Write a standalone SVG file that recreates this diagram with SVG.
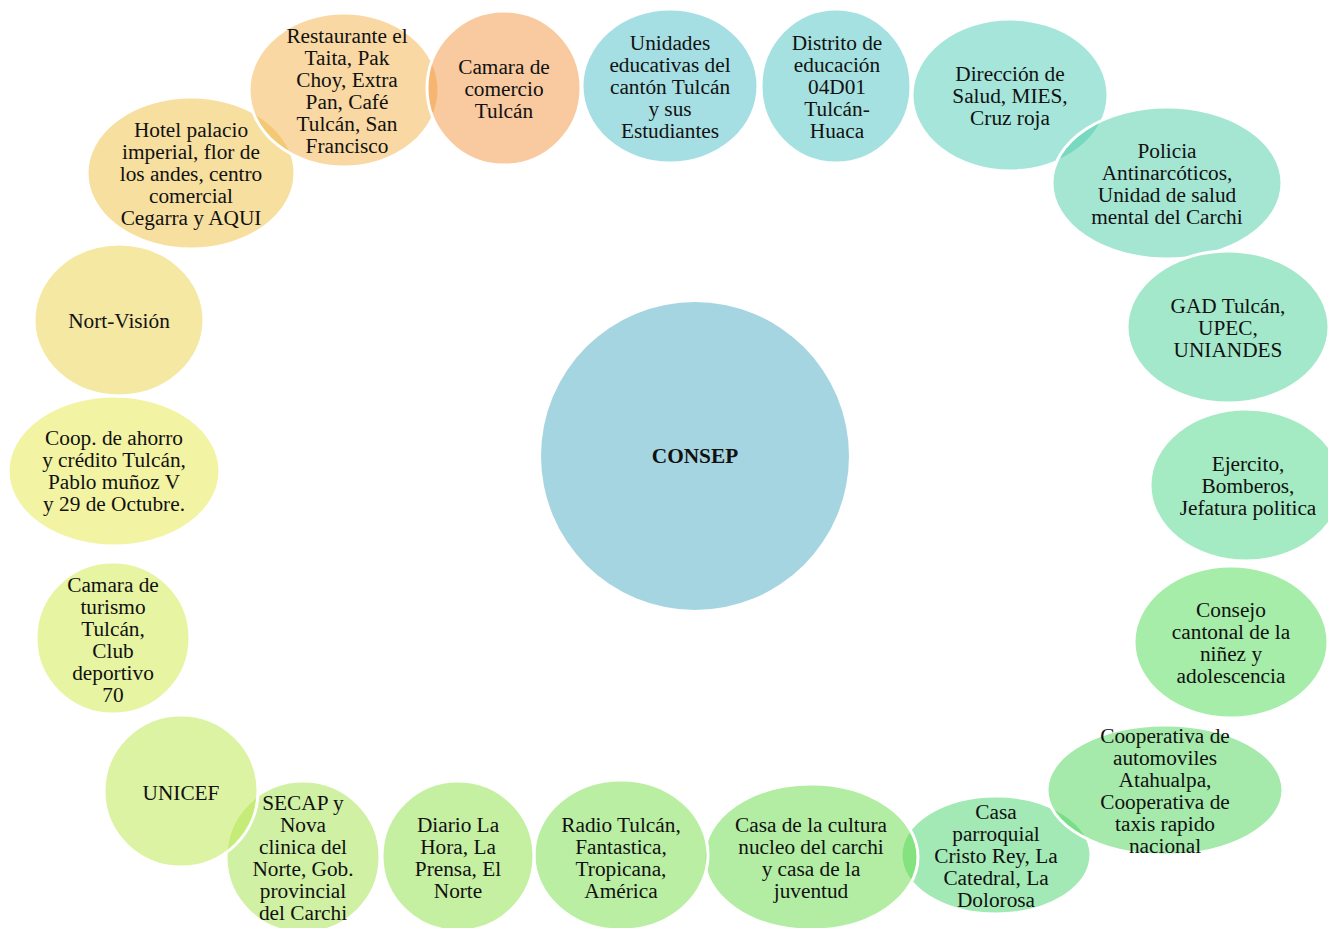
<svg xmlns="http://www.w3.org/2000/svg" width="1328" height="928" viewBox="0 0 1328 928">
<style>
.n{stroke:#fff;stroke-width:3;fill-opacity:0.5}
text{font-family:"Liberation Serif","Times New Roman",serif;font-size:21.3px;fill:#111;text-anchor:middle}
.b{font-weight:bold}
</style>
<rect width="1328" height="928" fill="#fff"/>
<g id="connectors"></g>
<g id="n-consep"><circle cx="695" cy="456" r="154" fill="#A6D5E2"/><text class="b" x="695" y="463">CONSEP</text></g>
<g id="n-hotel"><ellipse class="n" cx="191" cy="173" rx="104" ry="76" fill="#EFBF41"/><text x="191" y="137">Hotel palacio</text><text x="191" y="159">imperial, flor de</text><text x="191" y="181">los andes, centro</text><text x="191" y="203">comercial</text><text x="191" y="225">Cegarra y AQUI</text></g>
<g id="n-restaurante"><ellipse class="n" cx="344" cy="90" rx="95" ry="77" fill="#F3B147"/><text x="347" y="43">Restaurante el</text><text x="347" y="65">Taita, Pak</text><text x="347" y="87">Choy, Extra</text><text x="347" y="109">Pan, Café</text><text x="347" y="131">Tulcán, San</text><text x="347" y="153">Francisco</text></g>
<g id="n-camara-comercio"><ellipse class="n" cx="504" cy="88" rx="77" ry="77" fill="#F39341"/><text x="504" y="74">Camara de</text><text x="504" y="96">comercio</text><text x="504" y="118">Tulcán</text></g>
<g id="n-unidades"><ellipse class="n" cx="670" cy="86" rx="88" ry="77" fill="#4BBFC7"/><text x="670" y="50">Unidades</text><text x="670" y="72">educativas del</text><text x="670" y="94">cantón Tulcán</text><text x="670" y="116">y sus</text><text x="670" y="138">Estudiantes</text></g>
<g id="n-distrito"><ellipse class="n" cx="836" cy="86" rx="75" ry="77" fill="#4BC3C1"/><text x="837" y="50">Distrito de</text><text x="837" y="72">educación</text><text x="837" y="94">04D01</text><text x="837" y="116">Tulcán-</text><text x="837" y="138">Huaca</text></g>
<g id="n-direccion"><ellipse class="n" cx="1010" cy="95" rx="98" ry="76" fill="#4BCBB5"/><text x="1010" y="81">Dirección de</text><text x="1010" y="103">Salud, MIES,</text><text x="1010" y="125">Cruz roja</text></g>
<g id="n-policia"><ellipse class="n" cx="1167" cy="183" rx="115" ry="76" fill="#4BCDA7"/><text x="1167" y="158">Policia</text><text x="1167" y="180">Antinarcóticos,</text><text x="1167" y="202">Unidad de salud</text><text x="1167" y="224">mental del Carchi</text></g>
<g id="n-gad"><ellipse class="n" cx="1228" cy="327" rx="101" ry="76" fill="#49D197"/><text x="1228" y="313">GAD Tulcán,</text><text x="1228" y="335">UPEC,</text><text x="1228" y="357">UNIANDES</text></g>
<g id="n-ejercito"><ellipse class="n" cx="1246" cy="485" rx="96" ry="76" fill="#49D585"/><text x="1248" y="471">Ejercito,</text><text x="1248" y="493">Bomberos,</text><text x="1248" y="515">Jefatura politica</text></g>
<g id="n-consejo"><ellipse class="n" cx="1231" cy="642" rx="97" ry="76" fill="#4BDB51"/><text x="1231" y="617">Consejo</text><text x="1231" y="639">cantonal de la</text><text x="1231" y="661">niñez y</text><text x="1231" y="683">adolescencia</text></g>
<g id="n-parroquial"><ellipse class="n" cx="996" cy="855" rx="95" ry="59" fill="#47D36D"/><text x="996" y="819">Casa</text><text x="996" y="841">parroquial</text><text x="996" y="863">Cristo Rey, La</text><text x="996" y="885">Catedral, La</text><text x="996" y="907">Dolorosa</text></g>
<g id="n-cooperativa"><ellipse class="n" cx="1165" cy="790" rx="118" ry="65" fill="#4BD557"/><text x="1165" y="743">Cooperativa de</text><text x="1165" y="765">automoviles</text><text x="1165" y="787">Atahualpa,</text><text x="1165" y="809">Cooperativa de</text><text x="1165" y="831">taxis rapido</text><text x="1165" y="853">nacional</text></g>
<g id="n-cultura"><ellipse class="n" cx="811" cy="857" rx="107" ry="73" fill="#65DB47"/><text x="811" y="832">Casa de la cultura</text><text x="811" y="854">nucleo del carchi</text><text x="811" y="876">y casa de la</text><text x="811" y="898">juventud</text></g>
<g id="n-radio"><ellipse class="n" cx="621" cy="855" rx="87" ry="75" fill="#75DF47"/><text x="621" y="832">Radio Tulcán,</text><text x="621" y="854">Fantastica,</text><text x="621" y="876">Tropicana,</text><text x="621" y="898">América</text></g>
<g id="n-diario"><ellipse class="n" cx="458" cy="856" rx="76" ry="75" fill="#8BE145"/><text x="458" y="832">Diario La</text><text x="458" y="854">Hora, La</text><text x="458" y="876">Prensa, El</text><text x="458" y="898">Norte</text></g>
<g id="n-secap"><ellipse class="n" cx="303" cy="857" rx="77" ry="76" fill="#A1E349"/><text x="303" y="810">SECAP y</text><text x="303" y="832">Nova</text><text x="303" y="854">clinica del</text><text x="303" y="876">Norte, Gob.</text><text x="303" y="898">provincial</text><text x="303" y="920">del Carchi</text></g>
<g id="n-unicef"><ellipse class="n" cx="181" cy="791" rx="77" ry="76" fill="#B9E747"/><text x="181" y="800">UNICEF</text></g>
<g id="n-turismo"><ellipse class="n" cx="113" cy="638" rx="77" ry="76" fill="#CFE945"/><text x="113" y="592">Camara de</text><text x="113" y="614">turismo</text><text x="113" y="636">Tulcán,</text><text x="113" y="658">Club</text><text x="113" y="680">deportivo</text><text x="113" y="702">70</text></g>
<g id="n-coop"><ellipse class="n" cx="114" cy="471" rx="106" ry="75" fill="#E7E947"/><text x="114" y="445">Coop. de ahorro</text><text x="114" y="467">y crédito Tulcán,</text><text x="114" y="489">Pablo muñoz V</text><text x="114" y="511">y 29 de Octubre.</text></g>
<g id="n-nortvision"><ellipse class="n" cx="119" cy="320" rx="85" ry="76" fill="#EBD145"/><text x="119" y="328">Nort-Visión</text></g>
</svg>
